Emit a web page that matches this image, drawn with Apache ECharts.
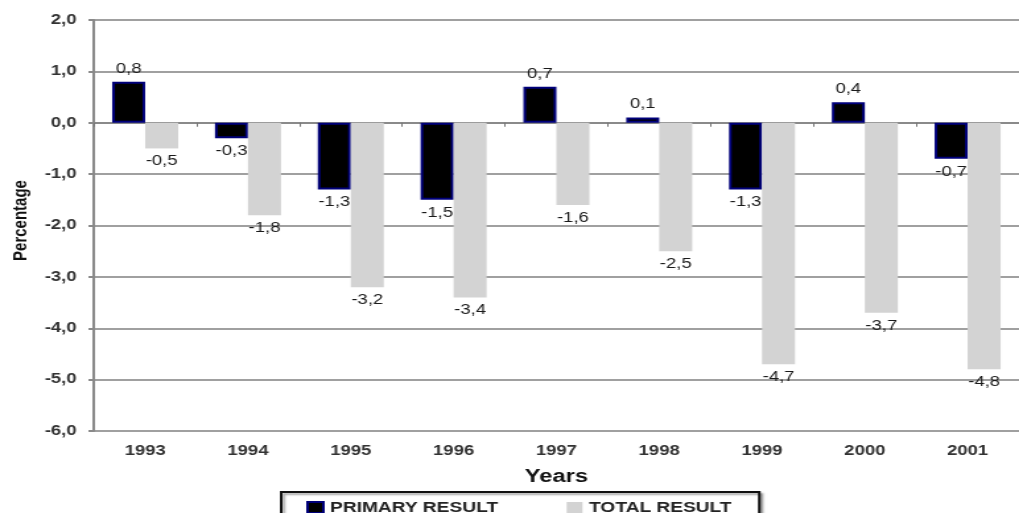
<!DOCTYPE html>
<html>
<head>
<meta charset="utf-8">
<script src="https://cdn.jsdelivr.net/npm/echarts@6/dist/echarts.min.js"></script>
<style>
  html, body { margin: 0; padding: 0; background: #fff; overflow: hidden; }
  /* the chart is laid out narrower and widened horizontally */
  #chart { width: 772px; height: 513px; transform: scaleX(1.32); transform-origin: 0 0; }
</style>
</head>
<body>
<div id="chart"></div>
<script>
const years = ['1993', '1994', '1995', '1996', '1997', '1998', '1999', '2000', '2001'];
const primaryResult = [0.8, -0.3, -1.3, -1.5, 0.7, 0.1, -1.3, 0.4, -0.7];
const totalResult = [-0.5, -1.8, -3.2, -3.4, -1.6, -2.5, -4.7, -3.7, -4.8];
const yMin = -6;
const yMax = 2;
const yStep = 1;

const FONT = "'Liberation Sans', Arial, sans-serif";
const fmt = v => Number(v).toFixed(1).replace('.', ',');

const withLabelSide = values => values.map(v => ({
  value: v,
  label: { position: v >= 0 ? 'top' : 'bottom' }
}));

const valueLabel = {
  show: true,
  distance: 6,
  fontFamily: FONT,
  fontSize: 14,
  color: '#1a1a1a',
  formatter: p => fmt(p.value)
};

const chart = echarts.init(document.getElementById('chart'));
chart.setOption({
  animation: false,
  backgroundColor: '#fff',
  grid: { left: 70.3, top: 20, width: 711.6, height: 411, containLabel: false },
  legend: {
    left: 213,
    top: 492,
    padding: [8, 21, 12, 19],
    itemGap: 52,
    itemWidth: 12,
    itemHeight: 11,
    borderColor: '#111',
    borderWidth: 2,
    backgroundColor: '#fff',
    shadowColor: 'rgba(0,0,0,0.35)',
    shadowBlur: 2,
    shadowOffsetX: 2,
    shadowOffsetY: 2,
    textStyle: { fontFamily: FONT, fontSize: 14.5, fontWeight: 'bold', color: '#222' },
    data: [
      { name: 'PRIMARY RESULT', icon: 'rect' },
      { name: 'TOTAL RESULT', icon: 'rect' }
    ]
  },
  xAxis: [
    {
      type: 'category',
      data: years,
      position: 'bottom',
      axisLine: { show: false, onZero: false },
      axisTick: { show: false },
      axisLabel: {
        margin: 13,
        fontFamily: FONT, fontSize: 14, fontWeight: 'bold', color: '#333'
      },
      name: 'Years',
      nameLocation: 'middle',
      nameGap: 37,
      nameTextStyle: { fontFamily: FONT, fontSize: 18, fontWeight: 'bold', color: '#111' }
    },
    {
      type: 'category',
      data: years,
      position: 'bottom',
      axisLine: { show: true, onZero: true, lineStyle: { color: '#8a8a8a', width: 2 } },
      axisTick: { show: true, length: 4, lineStyle: { color: '#777', width: 1 } },
      axisLabel: { show: false }
    }
  ],
  yAxis: {
    type: 'value',
    min: yMin,
    max: yMax,
    interval: yStep,
    axisLine: { show: true, lineStyle: { color: '#8a8a8a', width: 2 } },
    axisTick: { show: true, length: 4, lineStyle: { color: '#8a8a8a', width: 2 } },
    splitLine: { show: true, lineStyle: { color: '#a0a0a0', width: 2 } },
    axisLabel: {
      margin: 13,
      fontFamily: FONT, fontSize: 14, fontWeight: 'bold', color: '#333',
      formatter: v => fmt(v)
    },
    name: 'Percentage',
    nameLocation: 'middle',
    nameGap: 40,
    nameTextStyle: {
      fontFamily: FONT, fontSize: 15, fontWeight: 'bold', color: '#111',
      padding: [0, 0, 0, 10]
    }
  },
  series: [
    {
      name: 'PRIMARY RESULT',
      type: 'bar',
      xAxisIndex: 0,
      z: 2,
      barWidth: 25,
      barGap: '0%',
      itemStyle: { color: '#000', borderColor: '#00007a', borderWidth: 2 },
      label: valueLabel,
      data: withLabelSide(primaryResult)
    },
    {
      name: 'TOTAL RESULT',
      type: 'bar',
      xAxisIndex: 0,
      z: 3,
      barWidth: 25,
      barGap: '0%',
      itemStyle: { color: '#d3d3d3' },
      label: valueLabel,
      data: withLabelSide(totalResult)
    }
  ]
});
</script>
</body>
</html>
